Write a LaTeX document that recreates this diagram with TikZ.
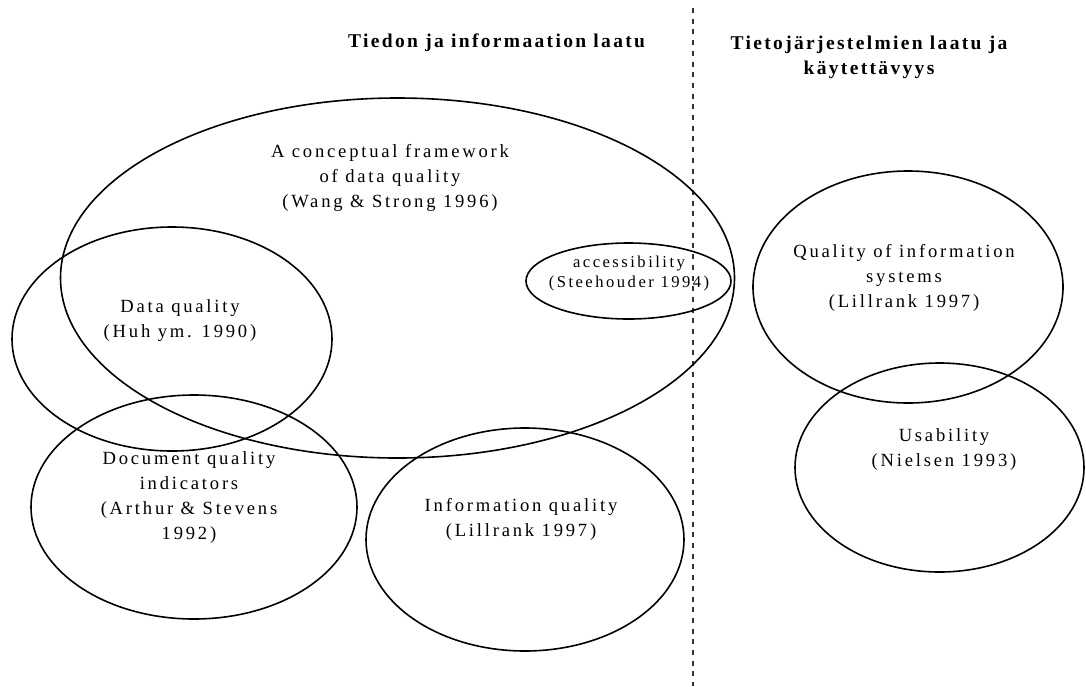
\documentclass[tikz,border=0pt]{standalone}
\usepackage{fontspec}
\setmainfont{Liberation Serif}
\newfontfamily\bodyfont[LetterSpace=15]{Liberation Serif}
\newfontfamily\headfont[LetterSpace=12]{Liberation Serif Bold}
\begin{document}
\begin{tikzpicture}[x=1pt,y=-1pt,
  oval/.style={line width=1.6pt},
  divider/.style={line width=1.2pt,black!80,dash pattern=on 5pt off 5.7pt},
  label/.style={align=center,inner sep=0pt,font=\bodyfont\fontsize{18.6}{25}\selectfont},
  small/.style={align=center,inner sep=0pt,font=\bodyfont\fontsize{16.6}{20}\selectfont},
  heading/.style={align=center,inner sep=0pt,font=\headfont\fontsize{19.5}{25}\selectfont}]
\useasboundingbox (0,0) rectangle (1086,686);

% vertical divider between the two areas
\coordinate (dtop) at (693,8);
\coordinate (dbot) at (693,686);
\draw[divider] (dtop) -- (dbot);

% area headings
\node[heading,anchor=west] (h1) at (348,43) {Tiedon ja informaation laatu};
\node[heading] (h2) at (869,57) {Tietojärjestelmien laatu ja\\käytettävyys};

% ellipses
\coordinate (cfw) at (397.5,278);
\coordinate (cdq) at (172,339);
\coordinate (cac) at (628.5,281);
\coordinate (cdo) at (194,507);
\coordinate (ciq) at (525,539.5);
\coordinate (cqs) at (908,287);
\coordinate (cus) at (939.5,467.5);
\draw[oval] (cfw) ellipse [x radius=337, y radius=180];
\draw[oval] (cdq) ellipse [x radius=160, y radius=112];
\draw[oval] (cac) ellipse [x radius=102.5, y radius=38];
\draw[oval] (cdo) ellipse [x radius=163, y radius=112];
\draw[oval] (ciq) ellipse [x radius=159, y radius=111.5];
\draw[oval] (cqs) ellipse [x radius=155, y radius=116];
\draw[oval] (cus) ellipse [x radius=144.5, y radius=104.5];

% labels
\node[label] (tfw) at (390,178) {A conceptual framework\\of data quality\\(Wang \& Strong 1996)};
\node[small] (tac) at (629,274) {accessibility\\(Steehouder 1994)};
\node[label] (tdq) at (180,321) {Data quality\\(Huh ym. 1990)};
\node[label] (tdo) at (189,498) {Document quality\\indicators\\(Arthur \& Stevens\\1992)};
\node[label] (tiq) at (521,519) {Information quality\\(Lillrank 1997)};
\node[label] (tqs) at (904,278) {Quality of information\\systems\\(Lillrank 1997)};
\node[label] (tus) at (944,450) {Usability\\(Nielsen 1993)};
\end{tikzpicture}
\end{document}
